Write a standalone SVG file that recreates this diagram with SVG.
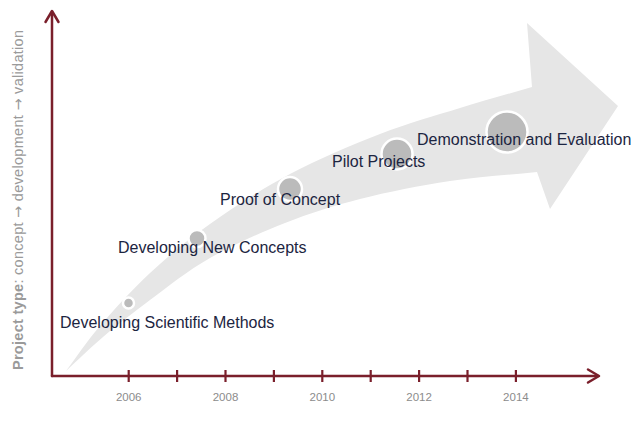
<svg xmlns="http://www.w3.org/2000/svg" width="632" height="436" viewBox="0 0 632 436">
  <style>
    .axis { stroke: #7a1f2b; stroke-width: 2.5; fill: none; stroke-linecap: round; stroke-linejoin: round; }
    .tick { stroke: #7a1f2b; stroke-width: 2.2; }
    .year { font-family: "Liberation Sans", Arial, sans-serif; font-size: 11.5px; fill: #8c8c8c; text-anchor: middle; }
    .stage { font-family: "Liberation Sans", Arial, sans-serif; font-size: 16px; fill: #1c2541; }
    .dot { fill: #bbbbbb; stroke: #ffffff; stroke-width: 2.5; }
    .ytitle { font-family: "Liberation Sans", Arial, sans-serif; font-size: 14.5px; fill: #9a9a9a; }
    .arr { font-family: "DejaVu Sans", sans-serif; }
  </style>

  <!-- background progression arrow -->
  <path id="progress-arrow" fill="#e6e6e6"
        d="M66,371
           C77.3,356 86,342.3 100,326
           C114,309.7 131.7,290 150,273
           C168.3,256 186.7,240.5 210,224
           C233.3,207.5 261.7,189 290,174
           C318.3,159 351.7,145 380,134
           C408.3,123 434.7,115.8 460,108
           C485.3,100.2 508,94 532,87
           L527,23 L618,106 L550,209 L537,172
           C508,175 479.5,176.5 450,181
           C420.5,185.5 387.5,192 360,199
           C332.5,206 310,213.2 285,223
           C260,232.8 232.5,245.2 210,258
           C187.5,270.8 167.8,286.8 150,300
           C132.2,313.2 117,325.2 103,337
           C89,348.8 78.3,359.7 66,371 Z"/>

  <!-- axes -->
  <g id="axes">
    <path class="axis" d="M52,376 L52,12"/>
    <polyline class="axis" points="45.5,22 52,11 58.5,22"/>
    <path class="axis" d="M52,376 L598,376"/>
    <polyline class="axis" points="588,369.5 599,376 588,382.5"/>
    <g class="tick">
      <line x1="128.7" y1="370" x2="128.7" y2="382"/>
      <line x1="177.1" y1="370" x2="177.1" y2="382"/>
      <line x1="225.5" y1="370" x2="225.5" y2="382"/>
      <line x1="273.9" y1="370" x2="273.9" y2="382"/>
      <line x1="322.3" y1="370" x2="322.3" y2="382"/>
      <line x1="370.7" y1="370" x2="370.7" y2="382"/>
      <line x1="419.1" y1="370" x2="419.1" y2="382"/>
      <line x1="467.5" y1="370" x2="467.5" y2="382"/>
      <line x1="515.9" y1="370" x2="515.9" y2="382"/>
    </g>
    <text class="year" x="128.7" y="401">2006</text>
    <text class="year" x="225.5" y="401">2008</text>
    <text class="year" x="322.3" y="401">2010</text>
    <text class="year" x="419.1" y="401">2012</text>
    <text class="year" x="515.9" y="401">2014</text>
    <text class="ytitle" transform="translate(23,370) rotate(-90)" textLength="340" lengthAdjust="spacing"><tspan font-weight="bold">Project type</tspan>:  concept <tspan class="arr">→</tspan> development <tspan class="arr">→</tspan> validation</text>
  </g>

  <!-- project stages -->
  <g id="stage-methods">
    <circle class="dot" cx="128.5" cy="303" r="5.5"/>
    <text class="stage" x="60" y="328">Developing Scientific Methods</text>
  </g>
  <g id="stage-concepts">
    <circle class="dot" cx="197" cy="238.5" r="8.5"/>
    <text class="stage" x="118" y="253">Developing New Concepts</text>
  </g>
  <g id="stage-proof">
    <circle class="dot" cx="290" cy="189" r="12"/>
    <text class="stage" x="220" y="205">Proof of Concept</text>
  </g>
  <g id="stage-pilot">
    <circle class="dot" cx="397" cy="154" r="15.5"/>
    <text class="stage" x="332" y="167">Pilot Projects</text>
  </g>
  <g id="stage-demo">
    <circle class="dot" cx="507" cy="132" r="20.5"/>
    <text class="stage" x="417" y="145">Demonstration and Evaluation</text>
  </g>
</svg>
